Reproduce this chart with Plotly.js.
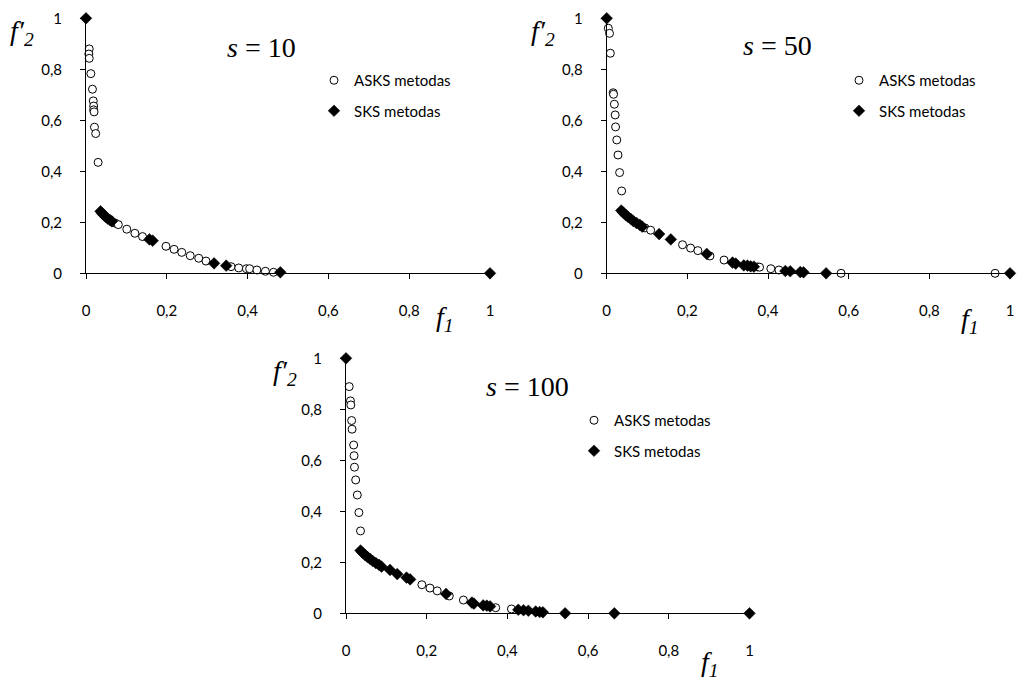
<!DOCTYPE html>
<html>
<head>
<meta charset="utf-8">
<script src="https://cdn.plot.ly/plotly-3.0.1.min.js"></script>
<style>html,body{margin:0;padding:0;background:#fff;}#chart{width:1017px;height:680px;}</style>
</head>
<body>
<div id="chart"></div>
<script>
// ---- data: s = 10 ----
const s10_asks_x = [0.008,0.007,0.008,0.012,0.016,0.018,0.019,0.019,0.020,0.021,0.024,0.030,
  0.072,0.080,0.101,0.121,0.140,0.198,0.218,0.237,0.258,0.279,0.297,0.359,0.378,0.397,0.405,0.423,0.444,0.464];
const s10_asks_y = [0.880,0.860,0.843,0.783,0.722,0.676,0.656,0.641,0.633,0.573,0.548,0.435,
  0.197,0.191,0.173,0.157,0.144,0.106,0.094,0.082,0.069,0.059,0.048,0.026,0.021,0.018,0.018,0.013,0.008,0.004];
const s10_sks_x = [0,0.036,0.040,0.045,0.049,0.054,0.060,0.064,0.157,0.165,0.317,0.347,0.481,1];
const s10_sks_y = [1,0.243,0.235,0.227,0.221,0.214,0.208,0.204,0.133,0.128,0.039,0.030,0.004,0];

// ---- data: s = 50 ----
const s50_asks_x = [0.004,0.007,0.009,0.016,0.017,0.019,0.021,0.022,0.025,0.028,0.032,0.037,
  0.095,0.109,0.188,0.208,0.226,0.256,0.291,0.374,0.379,0.407,0.427,0.581,0.963];
const s50_asks_y = [0.961,0.941,0.863,0.708,0.702,0.663,0.621,0.574,0.523,0.464,0.395,0.323,
  0.178,0.169,0.112,0.099,0.089,0.068,0.052,0.025,0.024,0.018,0.013,0,0];
const s50_sks_x = [0,0.036,0.041,0.047,0.053,0.060,0.066,0.074,0.082,0.088,0.130,0.159,0.248,
  0.312,0.320,0.340,0.349,0.357,0.365,0.443,0.455,0.480,0.488,0.544,1];
const s50_sks_y = [1,0.246,0.238,0.229,0.221,0.213,0.205,0.197,0.190,0.183,0.154,0.133,0.076,
  0.042,0.038,0.031,0.030,0.027,0.026,0.009,0.008,0.005,0.004,0,0];

// ---- data: s = 100 ----
const s100_asks_x = [0.008,0.011,0.012,0.014,0.015,0.019,0.020,0.021,0.024,0.028,0.032,0.036,
  0.188,0.208,0.226,0.256,0.291,0.371,0.410];
const s100_asks_y = [0.889,0.833,0.817,0.756,0.722,0.660,0.618,0.573,0.523,0.464,0.395,0.323,
  0.112,0.099,0.088,0.068,0.052,0.022,0.017];
const s100_sks_x = [0,0.036,0.041,0.047,0.053,0.060,0.066,0.074,0.082,0.088,0.109,0.127,0.150,0.159,
  0.248,0.312,0.317,0.340,0.349,0.357,0.427,0.440,0.452,0.470,0.480,0.488,0.543,0.665,1];
const s100_sks_y = [1,0.246,0.238,0.229,0.221,0.213,0.205,0.197,0.190,0.183,0.170,0.154,0.140,0.133,
  0.076,0.042,0.038,0.031,0.030,0.027,0.014,0.012,0.010,0.007,0.005,0.004,0,0,0];

const tickVals = [0,0.2,0.4,0.6,0.8,1];
const seriesNames = ['ASKS metodas','SKS metodas'];
const panelTitles = ['<i>s</i> = 10','<i>s</i> = 50','<i>s</i> = 100'];

const W = 1017, H = 680;
const px = v => v / W, py = v => 1 - v / H;

const asksMarker = {symbol:'circle', size:8, color:'#ffffff', line:{color:'#000000', width:1}};
const sksMarker = {symbol:'diamond', size:9, color:'#000000', line:{color:'#000000', width:0.5}};

function pair(ax, ay, sx, sy, k, leg){
  const xa = k === 1 ? 'x' : 'x' + k, ya = k === 1 ? 'y' : 'y' + k;
  return [
    {type:'scatter', mode:'markers', x:ax, y:ay, xaxis:xa, yaxis:ya, name:seriesNames[0],
     marker:asksMarker, legend:leg, legendgroup:'a'+k, cliponaxis:false},
    {type:'scatter', mode:'markers', x:sx, y:sy, xaxis:xa, yaxis:ya, name:seriesNames[1],
     marker:sksMarker, legend:leg, legendgroup:'s'+k, cliponaxis:false}
  ];
}

const data = [].concat(
  pair(s10_asks_x, s10_asks_y, s10_sks_x, s10_sks_y, 1, 'legend'),
  pair(s50_asks_x, s50_asks_y, s50_sks_x, s50_sks_y, 2, 'legend2'),
  pair(s100_asks_x, s100_asks_y, s100_sks_x, s100_sks_y, 3, 'legend3')
);

const tickFont = {family:'Lato, "Open Sans", sans-serif', size:15, color:'#000'};
function xax(d0, d1, anchor){
  return {domain:[px(d0), px(d1)], anchor:anchor, range:[0,1], tickvals:tickVals,
    showline:true, linecolor:'#000', linewidth:1, ticks:'outside', ticklen:5, tickcolor:'#000',
    showgrid:false, zeroline:false, tickfont:tickFont, ticklabelstandoff:19, fixedrange:true};
}
function yax(t, b, anchor){
  return {domain:[py(b), py(t)], anchor:anchor, range:[0,1], tickvals:tickVals,
    showline:true, linecolor:'#000', linewidth:1, ticks:'outside', ticklen:5, tickcolor:'#000',
    showgrid:false, zeroline:false, tickfont:tickFont, ticklabelstandoff:15, fixedrange:true};
}

const legFont = {family:'Lato, "Open Sans", sans-serif', size:15, color:'#000'};
function leg(x, y){
  return {x:px(x), y:py(y), xanchor:'left', yanchor:'top', font:legFont, bgcolor:'rgba(0,0,0,0)',
    tracegroupgap:8, traceorder:'grouped', borderwidth:0};
}

const serif = {family:'"Liberation Serif", "DejaVu Serif", serif', size:28, color:'#000'};
function ann(text, x, y, size){
  return {text:text, x:px(x), y:py(y), xref:'paper', yref:'paper', showarrow:false,
    xanchor:'center', yanchor:'middle', font:Object.assign({}, serif, size?{size:size}:{})};
}

const layout = {
  width:W, height:H, margin:{l:0,r:0,t:0,b:0}, paper_bgcolor:'#fff', plot_bgcolor:'rgba(0,0,0,0)',
  separators:', ', showlegend:true,
  xaxis: xax(86, 490, 'y'),   yaxis: yax(18.3, 273.3, 'x'),
  xaxis2: xax(606.7, 1010, 'y2'), yaxis2: yax(18.3, 273.3, 'x2'),
  xaxis3: xax(346, 749.5, 'y3'), yaxis3: yax(358.3, 613.3, 'x3'),
  legend: leg(314, 64), legend2: leg(839, 64), legend3: leg(574, 404),
  annotations: [
    ann(panelTitles[0], 261, 48), ann(panelTitles[1], 777, 46), ann(panelTitles[2], 527, 386),
    ann('<i>f\u2032<sub>2</sub></i>', 22, 32), ann('<i>f\u2032<sub>2</sub></i>', 543, 32), ann('<i>f\u2032<sub>2</sub></i>', 285, 372),
    ann('<i>f<sub>1</sub></i>', 445, 318), ann('<i>f<sub>1</sub></i>', 970, 320), ann('<i>f<sub>1</sub></i>', 710, 663)
  ]
};

Plotly.newPlot('chart', data, layout, {staticPlot:true, displayModeBar:false});
</script>
</body>
</html>
